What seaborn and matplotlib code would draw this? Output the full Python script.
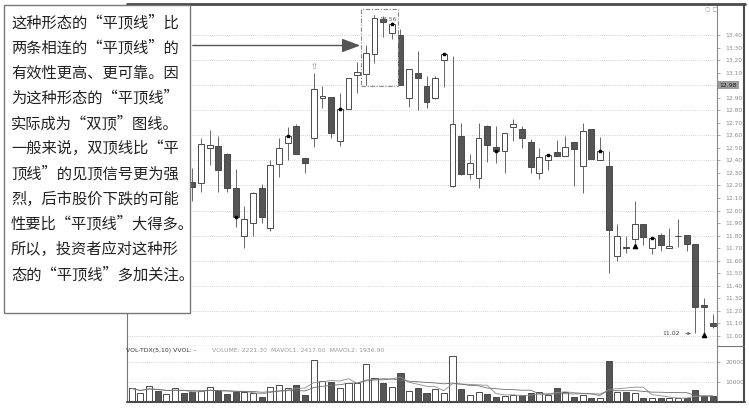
import numpy as np
import pandas as pd
import matplotlib
matplotlib.use("Agg")
import matplotlib.pyplot as plt
import matplotlib.transforms as mtransforms
import seaborn as sns
from matplotlib.patches import Rectangle, FancyArrowPatch
from matplotlib.lines import Line2D

nan = np.nan

# daily candles (first 7 sit behind the text box)
opens = [nan] * 7 + [
    12.23, 12.22, 12.50, 12.515, 12.45, 12.18, 11.80, 11.90, 12.18, 11.86,
    12.37, 12.54, 12.675, 12.42, 12.58, 12.90, 12.905, 12.555, 12.81, 13.08,
    13.09, 13.25, 13.53, 13.415, 13.40, 12.90, 13.10, 12.99, 12.90, 13.20,
    12.195, 12.595, 12.29, 12.26, 12.675, 12.505, 12.475, 12.665, 12.65, 12.545,
    12.30, 12.40, 12.47, 12.435, 12.545, 12.355, 12.65, 12.40, 12.355, 11.64,
    11.71, 11.775, 11.89, 11.70, 11.805, 11.70, 11.795, 11.805, 11.73, 11.245, 11.10]
closes = [nan] * 7 + [
    12.19, 12.53, 12.52, 12.32, 12.18, 11.95, 11.93, 12.14, 11.95, 12.36,
    12.50, 12.595, 12.45, 12.38, 12.97, 12.915, 12.62, 12.81, 13.06, 13.105,
    13.26, 13.535, 13.50, 13.49, 13.00, 13.13, 13.06, 12.865, 13.06, 13.25,
    12.69, 12.29, 12.38, 12.58, 12.52, 12.475, 12.62, 12.69, 12.58, 12.35,
    12.43, 12.44, 12.435, 12.51, 12.49, 12.635, 12.41, 12.475, 11.845, 11.80,
    11.70, 11.89, 11.79, 11.78, 11.725, 11.72, 11.80, 11.73, 11.23, 11.23, 11.08]
highs = [nan] * 7 + [
    12.34, 12.58, 12.64, 12.595, 12.46, 12.33, 12.04, 12.15, 12.21, 12.40,
    12.58, 12.67, 12.69, 12.42, 13.10, 12.99, 12.905, 12.94, 13.06, 13.185,
    13.32, 13.56, 13.55, 13.50, 13.45, 13.13, 13.27, 13.07, 13.07, 13.26,
    13.23, 12.70, 12.45, 12.70, 12.68, 12.675, 12.62, 12.73, 12.675, 12.57,
    12.50, 12.45, 12.56, 12.595, 12.545, 12.70, 12.65, 12.585, 12.475, 11.89,
    11.80, 12.08, 11.89, 11.79, 11.82, 11.86, 11.93, 11.805, 11.73, 11.30, 11.175]
lows = [nan] * 7 + [
    12.08, 12.15, 12.36, 12.15, 12.15, 11.87, 11.70, 11.80, 11.90, 11.84,
    12.27, 12.40, 12.45, 12.30, 12.51, 12.82, 12.58, 12.515, 12.81, 12.94,
    13.00, 13.18, 13.385, 13.37, 13.00, 12.825, 12.80, 12.82, 12.89, 12.985,
    12.19, 12.28, 12.25, 12.18, 12.39, 12.38, 12.30, 12.555, 12.50, 12.30,
    12.25, 12.325, 12.435, 12.435, 12.195, 12.14, 12.41, 12.40, 11.50, 11.60,
    11.66, 11.74, 11.725, 11.655, 11.68, 11.70, 11.71, 11.68, 11.02, 11.02, 11.065]

volumes = [
    6800, 4700, 8200, 5500, 3800, 6800, 4700, 4800, 5500, 7700,
    5500, 3800, 4800, 4800, 4300, 2700, 7300, 8500, 7200, 8500,
    3500, 21000, 10500, 10200, 7200, 9300, 9300, 18800, 12000, 9300,
    7700, 14700, 5500, 7200, 4300, 6500, 4700, 23000, 6300, 3500,
    5200, 3800, 2300, 3000, 3500, 3500, 4700, 5200, 3500, 6800,
    5200, 2700, 3500, 2200, 2200, 20500, 4800, 5200, 4300, 2200,
    1800, 2200, 1800, 1800, 2200, 6000, 3000, 3000]
direction = (["up", "up", "up", "down", "up", "up", "down"] +
             ["up" if c >= o else "down" for o, c in zip(opens[7:], closes[7:])])

text_lines = [
    "这种形态的“平顶线”比",
    "两条相连的“平顶线”的",
    "有效性更高、更可靠。因",
    "为这种形态的“平顶线”",
    "实际成为“双顶”图线。",
    "一般来说，双顶线比“平",
    "顶线”的见顶信号更为强",
    "烈，后市股价下跌的可能",
    "性要比“平顶线”大得多。",
    "所以，投资者应对这种形",
    "态的“平顶线”多加关注。",
]
price_labels = [11.0, 11.1, 11.2, 11.3, 11.4, 11.5, 11.6, 11.7, 11.8, 11.9, 12.0,
                12.1, 12.2, 12.3, 12.4, 12.5, 12.6, 12.7, 12.8, 12.9, 13.1, 13.2, 13.3, 13.4]
grid_prices = [11.0, 11.2, 11.4, 11.6, 11.8, 12.0, 12.2, 12.4, 12.6, 12.8, 13.0, 13.2, 13.4]
dot_days = [12, 18, 24, 30, 36, 42, 48, 54, 60]

df = pd.DataFrame({"day": np.arange(len(volumes)), "open": opens, "close": closes,
                   "high": highs, "low": lows, "vol": volumes, "dir": direction})
df["ma5"] = df["vol"].rolling(5, min_periods=1).mean()
df["ma10"] = df["vol"].rolling(10, min_periods=1).mean()

sns.set_theme(style="white")
plt.rcParams["font.family"] = ["DejaVu Sans"]
cjk = ["Noto Sans CJK SC", "DejaVu Sans"]

W, H = 749, 408
fx = lambda px: px / W
fy = lambda py: 1 - py / H

fig = plt.figure(figsize=(W / 100, H / 100), dpi=100)
ax = fig.add_axes([fx(127), fy(346), fx(717) - fx(127), fy(4) - fy(346)])
axv = fig.add_axes([fx(127), fy(402), fx(717) - fx(127), fy(346) - fy(402)])

DARK = "#555555"
EDGE = "#4a4a4a"
xlim = (-0.54, 67.5)

# --- price panel ---
for g in grid_prices:
    ax.axhline(g, color="#c4c4c4", lw=0.6, ls=(0, (1, 1.6)), zorder=0)

ax.vlines(df["day"], df["low"], df["high"], color="#666666", lw=0.7, zorder=1)
body_low = df[["open", "close"]].min(axis=1)
body_h = (df["close"] - df["open"]).abs().clip(lower=0.006)
fills = [("white" if d == "up" else DARK) for d in df["dir"]]
ax.bar(df["day"], body_h, bottom=body_low, width=0.68, color=fills,
       edgecolor=EDGE, linewidth=0.7, zorder=2)

dots = df.loc[dot_days]
ax.scatter(dots["day"], dots["close"], marker="s", s=3.5, color="black", zorder=3)
ax.scatter([58, 66], [df.loc[58, "low"] - 0.02, df.loc[66, "low"] - 0.01], marker="^",
           s=9, color="black", zorder=3)
ax.text(21, df.loc[21, "high"] + 0.015, "⇧", ha="center", va="bottom", fontsize=6,
        color="#888888", zorder=3)

ax.annotate("13.56", xy=(28, 13.56), xytext=(28.55, 13.525), fontsize=4.4, color="#666666",
            va="center", arrowprops=dict(arrowstyle="-", lw=0.5, color="#666666",
                                         connectionstyle="angle,angleA=0,angleB=90"))
ax.annotate("11.02", xy=(64.8, 11.02), xytext=(63.2, 11.02), fontsize=4.4, color="#444444",
            va="center", ha="right",
            arrowprops=dict(arrowstyle="->", lw=0.5, color="#444444"))
ax.add_patch(Rectangle((26.45, 12.993), 4.25, 0.614, fill=False, ec="#8a8a8a", lw=0.8,
                       ls=(0, (4, 1.5, 1, 1.5)), zorder=4))

ax.set_xlim(*xlim)
ax.set_ylim(10.92, 13.647)
ax.set_xticks([])
ax.yaxis.tick_right()
ax.set_yticks(price_labels)
ax.set_yticklabels([f"{v:.2f}" for v in price_labels])
ax.tick_params(axis="y", labelsize=4.3, colors="#8a8a8a", length=2, width=0.5, pad=4,
               right=True, left=False)
trans = mtransforms.blended_transform_factory(ax.transAxes, ax.transData)
ax.text(1.004, 12.98, "12.98", transform=trans, fontsize=4.4, color="#222222",
        va="bottom", ha="left", clip_on=False,
        bbox=dict(boxstyle="square,pad=0.3", fc="#9c9c9c", ec="none"))
for side, col in [("left", "#777777"), ("right", "#888888"), ("bottom", "#777777")]:
    ax.spines[side].set_color(col)
    ax.spines[side].set_linewidth(0.8)
ax.spines["top"].set_visible(False)

# --- volume panel ---
for g in [10000, 20000]:
    axv.axhline(g, color="#c4c4c4", lw=0.6, ls=(0, (1, 1.6)), zorder=0)
sns.barplot(data=df, x="day", y="vol", hue="dir", palette={"up": "white", "down": DARK},
            dodge=False, width=0.7, saturation=1, edgecolor=EDGE, linewidth=0.7,
            legend=False, ax=axv, zorder=2)
sns.lineplot(x=df["day"], y=df["ma5"], color="#8c8c8c", lw=0.6, ax=axv, zorder=3)
sns.lineplot(x=df["day"], y=df["ma10"], color="#6e6e6e", lw=0.6, ax=axv, zorder=3)
axv.set_xlim(*xlim)
axv.set_ylim(0, 28000)
axv.set_xticks([])
axv.set_xlabel("")
axv.set_ylabel("")
axv.yaxis.tick_right()
axv.set_yticks([10000, 20000])
axv.set_yticklabels(["10000", "20000"])
axv.tick_params(axis="y", labelsize=4.3, colors="#8a8a8a", length=2, width=0.5, pad=4,
                right=True, left=False)
for side, col in [("left", "#777777"), ("right", "#888888")]:
    axv.spines[side].set_color(col)
    axv.spines[side].set_linewidth(0.8)
axv.spines["top"].set_visible(False)
axv.spines["bottom"].set_visible(False)

fig.text(fx(126), fy(350.5), "VOL-TDX(5,10) VVOL: -", fontsize=4.4, color="#333333", va="center")
fig.text(fx(212), fy(350.5), "VOLUME: 2221.30  MAVOL1: 2417.00  MAVOL2: 1936.90",
         fontsize=4.4, color="#9a9a9a", va="center")
fig.text(fx(705), fy(8.5), "○ □", fontsize=4.5, color="#999999", va="center")

# outer frame
fig.add_artist(Line2D([fx(127), fx(745)], [fy(4), fy(4)], color="#4a4a4a", lw=2))
fig.add_artist(Line2D([fx(744), fx(744)], [fy(4), fy(402)], color="#4a4a4a", lw=1.5))
fig.add_artist(Line2D([fx(127), fx(745)], [fy(401.5), fy(401.5)], color="#4a4a4a", lw=1.5))
fig.add_artist(Line2D([fx(717), fx(744)], [fy(346), fy(346)], color="#777777", lw=0.8))

# text box with arrow
fig.add_artist(Rectangle((fx(4), fy(313)), fx(190) - fx(4), fy(5) - fy(313),
                         transform=fig.transFigure, fc="white", ec="#777777", lw=1.0, zorder=10))
for i, line in enumerate(text_lines):
    fig.text(fx(11), fy(22.7 + 25.2 * i), line, fontsize=11, family=cjk, color="#222222",
             ha="left", va="center", zorder=11)
fig.add_artist(FancyArrowPatch((fx(190), fy(45.5)), (fx(363), fy(45.5)),
                               transform=fig.transFigure, color="#555555", lw=1.0,
                               arrowstyle="-|>,head_length=0.8,head_width=0.3",
                               mutation_scale=14, zorder=10))

fig.savefig("out.png", dpi=100)
